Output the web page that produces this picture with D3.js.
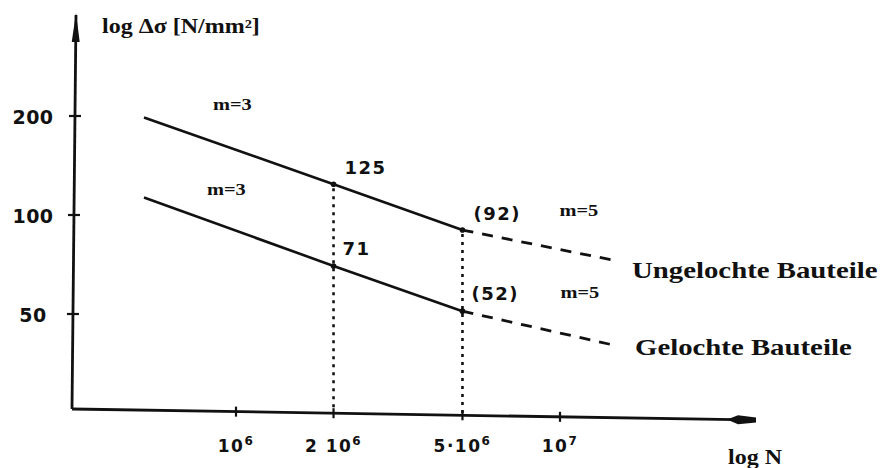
<!DOCTYPE html>
<html>
<head>
<meta charset="utf-8">
<script src="https://cdn.jsdelivr.net/npm/d3@7"></script>
<style>
  html, body { margin: 0; padding: 0; background: #fff; }
  svg { display: block; }
</style>
</head>
<body>
<svg id="chart" width="883" height="468"></svg>
<script>
// ---- data ----
const cycles = [5.2e5, 2e6, 5e6, 1.5e7];
const ungelocht = [198, 124, 90, 72.5];
const gelocht = [113, 70, 51, 40];
const yTicks = [200, 100, 50];
const xTicks = [1e6, 2e6, 5e6, 1e7];
const xTickBase = ["10", "2 10", "5·10", "10"];
const xTickExp = ["6", "6", "6", "7"];
const pointLabelsUpper = ["125", "(92)"];
const pointLabelsLower = ["71", "(52)"];
const slopeLabels = ["m=3", "m=5"];
const seriesNames = ["Ungelochte Bauteile", "Gelochte Bauteile"];
const yTitle = "log Δσ [N/mm²]";
const xTitle = "log N";

// ---- scales ----
const x = d3.scaleLog().domain([1e6, 1e7]).range([236, 560]);
const y = d3.scaleLog().domain([50, 200]).range([314, 116]);

const svg = d3.select("#chart");
const ink = "#111";

// x axis line (slightly tilted like the hand drawing)
const ax0 = 72, ay0 = 409, ax1 = 757, ay1 = 420;
const axisY = xx => ay0 + (xx - ax0) * (ay1 - ay0) / (ax1 - ax0);

svg.append("line")
  .attr("x1", ax0).attr("y1", ay0).attr("x2", 735).attr("y2", axisY(735))
  .attr("stroke", ink).attr("stroke-width", 2.8);
// arrow at right end
svg.append("polygon")
  .attr("points", `727,${axisY(727)} 738,${axisY(738)-4.5} 756,${axisY(756)-2.5} 756,${axisY(756)+2.5} 738,${axisY(738)+4.5}`)
  .attr("fill", ink);

// y axis line
const yx0 = 76, yy0 = 15, yx1 = 72, yy1 = 409;
const axisX = yy => yx0 + (yy - yy0) * (yx1 - yx0) / (yy1 - yy0);
svg.append("line")
  .attr("x1", yx0).attr("y1", yy0).attr("x2", yx1).attr("y2", yy1)
  .attr("stroke", ink).attr("stroke-width", 2.8);
svg.append("polygon")
  .attr("points", `${yx0},${yy0-2} ${axisX(42)-4},42 ${axisX(42)+4},42`)
  .attr("fill", ink);

// y ticks
yTicks.forEach(v => {
  const yy = y(v), xx = axisX(yy);
  svg.append("line").attr("x1", xx - 6).attr("x2", xx + 6).attr("y1", yy).attr("y2", yy)
    .attr("stroke", ink).attr("stroke-width", 2.2);
  svg.append("text").attr("x", 33).attr("y", yy + 8)
    .attr("text-anchor", "middle")
    .attr("font-family", "DejaVu Sans").attr("font-weight", "bold").attr("font-size", 19)
    .attr("letter-spacing", 0.5)
    .attr("fill", ink).text(v);
});

// x ticks
xTicks.forEach((v, i) => {
  const xx = x(v), yy = axisY(xx);
  svg.append("line").attr("x1", xx).attr("x2", xx).attr("y1", yy - 5).attr("y2", yy + 5)
    .attr("stroke", ink).attr("stroke-width", 2.2);
  const t = svg.append("text").attr("x", xx).attr("y", 452)
    .attr("text-anchor", "middle")
    .attr("font-family", "DejaVu Sans").attr("font-weight", "bold").attr("font-size", 17)
    .attr("letter-spacing", 1.5)
    .attr("fill", ink);
  t.append("tspan").text(xTickBase[i]);
  t.append("tspan").attr("dy", -7).attr("font-size", 12).text(xTickExp[i]);
});

// dotted verticals at 2e6 and 5e6
[1, 2].forEach(i => {
  const xx = x(cycles[i]);
  svg.append("line").attr("x1", xx).attr("x2", xx)
    .attr("y1", y(ungelocht[i]) + 4).attr("y2", axisY(xx))
    .attr("stroke", ink).attr("stroke-width", 2.6)
    .attr("stroke-dasharray", "3,5");
});

// S-N curves
const line = d3.line().x(d => x(d[0])).y(d => y(d[1]));
[ungelocht, gelocht].forEach(vals => {
  const pts = cycles.map((c, i) => [c, vals[i]]);
  svg.append("path").attr("d", line(pts.slice(0, 3)))
    .attr("fill", "none").attr("stroke", ink).attr("stroke-width", 2.6);
  svg.append("path").attr("d", line(pts.slice(2)))
    .attr("fill", "none").attr("stroke", ink).attr("stroke-width", 2.8)
    .attr("stroke-dasharray", "11,9");
  [1, 2].forEach(i => {
    svg.append("circle").attr("cx", x(cycles[i])).attr("cy", y(vals[i])).attr("r", 2.8).attr("fill", ink);
  });
});

// point labels
const typeText = (xx, yy, s) => svg.append("text").attr("x", xx).attr("y", yy)
  .attr("font-family", "DejaVu Sans").attr("font-weight", "bold").attr("font-size", 18)
  .attr("letter-spacing", 1.5).attr("fill", ink).text(s);
[1, 2].forEach((i, k) => {
  typeText(x(cycles[i]) + 11, y(ungelocht[i]) - 10, pointLabelsUpper[k]);
  typeText(x(cycles[i]) + 9, y(gelocht[i]) - 11, pointLabelsLower[k]);
});

// serif labels (stretched horizontally like the original scan)
const serif = (xx, yy, s, size) => svg.append("text")
  .attr("transform", `translate(${xx},${yy}) scale(1.2,1)`)
  .attr("font-family", "Liberation Serif, Times New Roman, serif")
  .attr("font-weight", "bold").attr("font-size", size)
  .attr("fill", ink).text(s);

serif(102, 33, yTitle, 20);
serif(728, 464, xTitle, 20);
serif(x(cycles[0]) + 69, y(ungelocht[0]) - 7, slopeLabels[0], 17);
serif(x(cycles[0]) + 63, y(gelocht[0]) - 3, slopeLabels[0], 17);
serif(x(cycles[2]) + 97, y(ungelocht[2]) - 14, slopeLabels[1], 17);
serif(x(cycles[2]) + 98, y(gelocht[2]) - 13, slopeLabels[1], 17);
serif(632, 278, seriesNames[0], 24);
serif(635, 355, seriesNames[1], 24);
</script>
</body>
</html>
